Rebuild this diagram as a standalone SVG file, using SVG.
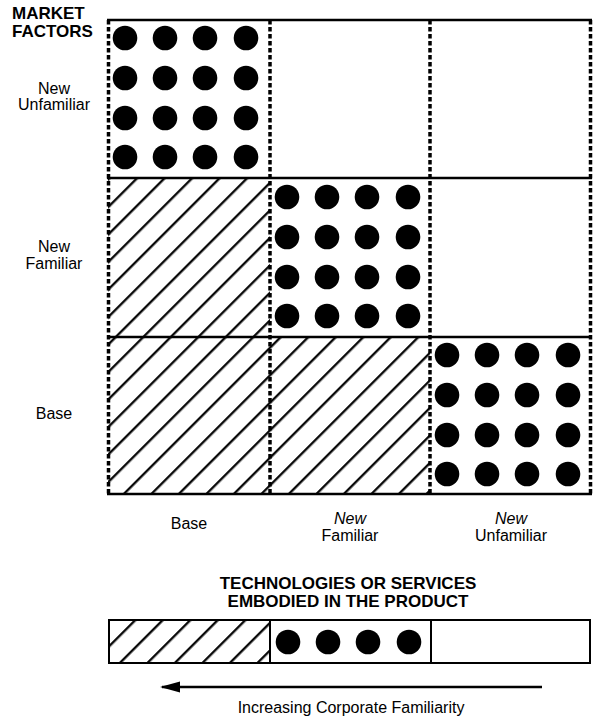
<svg xmlns="http://www.w3.org/2000/svg" width="593" height="721" viewBox="0 0 593 721">
<style>
.t{font-family:"Liberation Sans",Arial,sans-serif;fill:#000}
.b{font-weight:bold;font-size:17px}
.r{font-size:16px}
.i{font-style:italic}
.hl{stroke:#000;stroke-width:2.5;fill:none}
.vl{stroke:#000;stroke-width:3.5;stroke-dasharray:4.5 2.5;fill:none}
.bar{stroke:#000;stroke-width:2;fill:none}
.hatch{fill:url(#hatch)}
.dot{fill:#000}
</style>
<defs>
<pattern id="hatch" patternUnits="userSpaceOnUse" width="20" height="19.45" patternTransform="rotate(-45)">
<line x1="-2" y1="9" x2="22" y2="9" stroke="#000" stroke-width="2.3"/>
</pattern>
<g id="dots4">
<circle cx="0" cy="0" r="12.3"/><circle cx="40" cy="0" r="12.3"/><circle cx="80" cy="0" r="12.3"/><circle cx="121" cy="0" r="12.3"/>
</g>
<g id="dots16">
<use href="#dots4" y="0"/><use href="#dots4" y="40"/><use href="#dots4" y="80"/><use href="#dots4" y="119"/>
</g>
<marker id="ah" markerWidth="20" markerHeight="12" refX="18" refY="6" orient="auto" markerUnits="userSpaceOnUse">
<polygon points="0,0.5 20,6 0,11.5" fill="#000"/>
</marker>
</defs>

<g id="axis-market">
<text class="t b" x="12" y="19">MARKET</text>
<text class="t b" x="12" y="37">FACTORS</text>
</g>
<g id="row-labels">
<text class="t r" x="54" y="94" text-anchor="middle">New</text>
<text class="t r" x="54" y="110" text-anchor="middle">Unfamiliar</text>
<text class="t r" x="54" y="252" text-anchor="middle">New</text>
<text class="t r" x="54" y="269" text-anchor="middle">Familiar</text>
<text class="t r" x="54" y="419" text-anchor="middle">Base</text>
</g>

<g id="cell-r1c1" class="dot"><use href="#dots16" x="125" y="38"/></g>
<g id="cell-r2c1"><rect class="hatch" x="108" y="178" width="162" height="159"/></g>
<g id="cell-r2c2" class="dot"><use href="#dots16" x="287" y="197"/></g>
<g id="cell-r3c1"><rect class="hatch" x="108" y="337" width="162" height="157"/></g>
<g id="cell-r3c2"><rect class="hatch" x="270" y="337" width="160" height="157"/></g>
<g id="cell-r3c3" class="dot"><use href="#dots16" x="447" y="355"/></g>

<g id="grid-lines">
<line class="hl" x1="107" y1="20" x2="592" y2="20"/>
<line class="hl" x1="107" y1="178" x2="592" y2="178"/>
<line class="hl" x1="107" y1="337" x2="592" y2="337"/>
<line class="hl" x1="107" y1="494" x2="592" y2="494"/>
<line class="vl" x1="108.5" y1="20" x2="108.5" y2="494"/>
<line class="vl" x1="270" y1="20" x2="270" y2="494"/>
<line class="vl" x1="430" y1="20" x2="430" y2="494"/>
<line class="vl" x1="590.5" y1="20" x2="590.5" y2="494"/>
</g>

<g id="col-labels">
<text class="t r" x="189" y="529" text-anchor="middle">Base</text>
<text class="t r i" x="350" y="524" text-anchor="middle">New</text>
<text class="t r" x="350" y="541" text-anchor="middle">Familiar</text>
<text class="t r i" x="511" y="524" text-anchor="middle">New</text>
<text class="t r" x="511" y="541" text-anchor="middle">Unfamiliar</text>
</g>

<g id="axis-tech">
<text class="t b" x="348" y="589" text-anchor="middle">TECHNOLOGIES OR SERVICES</text>
<text class="t b" x="348" y="607" text-anchor="middle">EMBODIED IN THE PRODUCT</text>
</g>

<g id="bar-base"><rect class="hatch" x="109" y="620" width="161" height="43"/><rect class="bar" x="109" y="620" width="161" height="43"/></g>
<g id="bar-familiar"><rect class="bar" x="270" y="620" width="161" height="43"/><g class="dot"><use href="#dots4" x="288" y="642"/></g></g>
<g id="bar-unfamiliar"><rect class="bar" x="431" y="620" width="159" height="43"/></g>

<g id="connectors">
<line x1="542" y1="687" x2="162" y2="687" stroke="#000" stroke-width="2.5" marker-end="url(#ah)"/>
</g>
<g id="arrow-label">
<text class="t r" x="351" y="713" text-anchor="middle">Increasing Corporate Familiarity</text>
</g>
</svg>
